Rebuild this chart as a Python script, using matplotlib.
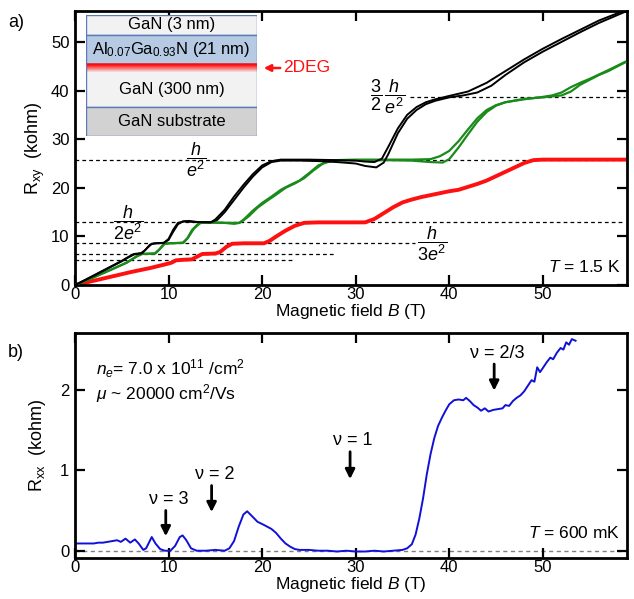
import matplotlib
matplotlib.use('Agg')
import matplotlib.pyplot as plt
from matplotlib.patches import Rectangle
import numpy as np

plt.rcParams['font.family'] = ['Liberation Sans', 'DejaVu Sans']
plt.rcParams['mathtext.fontset'] = 'custom'
plt.rcParams['mathtext.rm'] = 'Liberation Sans'
plt.rcParams['mathtext.it'] = 'Liberation Sans:italic'
plt.rcParams['mathtext.bf'] = 'Liberation Sans:bold'

# ---------------- data: Hall resistance R_xy (kohm) at T = 1.5 K ----------------
black_up_B = [0, 2, 4, 5, 5.8, 6.3, 7.0, 7.5, 8.0, 8.5, 9.5, 10.0, 10.5, 11.0, 11.5, 12.2, 13, 14.5,
              15.2, 16, 17, 18, 19, 20, 21, 22, 24, 26, 28, 30, 31, 32.2, 33, 33.5, 34.5, 35.5,
              36.5, 37.5, 38.5, 40, 41.5, 43, 44.5, 46, 48, 50, 52, 54, 56, 58.8]
black_up_R = [0, 1.9, 3.9, 4.9, 5.8, 6.3, 6.5, 7.2, 8.3, 8.6, 8.7, 9.3, 11.0, 12.5, 13.1, 13.2, 13.0, 12.9,
              13.4, 15.0, 17.5, 20.0, 22.3, 24.2, 25.3, 25.6, 25.6, 25.5, 25.3, 25.0, 24.5, 24.2, 25.2, 27.0,
              31.2, 34.2, 36.0, 37.2, 37.9, 38.6, 39.0, 39.6, 41.0, 43.2, 45.8, 48.0, 50.0, 52.0, 53.9, 56.2]

black_dn_B = [0, 2, 4, 5, 5.8, 6.3, 7.2, 7.7, 8.2, 9.5, 10.0, 10.5, 11.0, 11.7, 12.5, 14.5, 15.0, 16,
              17, 18, 19, 20, 21, 22, 25, 28, 30, 31, 32, 32.8, 33.5, 34.5, 35.5, 36.5, 37.5, 38.5,
              40, 42, 44, 46, 48, 50, 52, 54, 56, 58.8]
black_dn_R = [0, 2.0, 4.0, 5.0, 5.9, 6.4, 6.6, 7.6, 8.5, 8.7, 9.5, 11.4, 12.8, 13.1, 13.0, 12.9, 13.5, 15.5,
              18.2, 20.6, 22.8, 24.6, 25.5, 25.8, 25.8, 25.7, 25.6, 25.4, 25.3, 26.0, 28.5, 32.2, 35.0, 36.6,
              37.6, 38.2, 38.9, 39.8, 41.6, 44.0, 46.4, 48.6, 50.6, 52.5, 54.4, 56.5]

green_up_B = [0, 2, 4, 5.5, 6.5, 7.0, 8.5, 9.0, 9.5, 10, 11.5, 12, 12.5, 13.2, 14, 16, 17, 17.6, 18.2,
              19, 20, 21, 22, 23, 24, 25, 26, 27, 28, 30, 33, 36, 38, 39, 40, 41, 42, 43, 44, 45, 46,
              48, 50, 51, 52, 53, 54, 55, 56, 57, 58.8]
green_up_R = [0, 1.6, 3.3, 4.6, 5.8, 6.4, 6.5, 7.3, 8.5, 8.6, 8.7, 9.6, 11.3, 12.7, 12.9, 12.8, 12.6, 12.8,
              13.8, 15.3, 16.9, 18.2, 19.6, 20.6, 21.5, 23.0, 24.6, 25.4, 25.7, 25.8, 25.8, 25.8, 25.9, 26.5,
              27.6, 29.6, 32.0, 34.3, 36.0, 37.0, 37.6, 38.2, 38.7, 39.0, 39.6, 40.7, 41.6, 42.4, 43.3, 44.2,
              45.9]

green_dn_B = [0, 2, 4, 5.5, 6.6, 7.2, 8.6, 9.1, 9.6, 10.2, 11.6, 12.1, 12.7, 13.4, 14.2, 16, 17.5, 18,
              18.6, 19.5, 20.5, 21.5, 22.5, 23.5, 24.5, 25.5, 26.5, 27.5, 30, 33, 36, 38, 39.3, 40, 41,
              42, 43, 44, 45, 46, 48, 50, 51, 52, 53, 54, 55, 56, 57, 58.8]
green_dn_R = [0, 1.6, 3.3, 4.6, 5.9, 6.4, 6.5, 7.5, 8.5, 8.6, 8.7, 9.8, 11.6, 12.8, 12.9, 12.8, 12.8, 13.3,
              14.2, 15.9, 17.3, 18.6, 20.0, 20.9, 22.0, 23.6, 25.0, 25.6, 25.7, 25.7, 25.6, 25.3, 25.2, 25.9,
              28.3, 31.0, 33.6, 35.6, 36.9, 37.6, 38.3, 38.6, 38.8, 39.0, 39.8, 41.2, 42.2, 43.2, 44.0, 45.8]

red_B = [0, 2, 4, 6, 8, 9.5, 10.3, 10.8, 11.5, 12.5, 13.0, 13.6, 15.0, 15.5, 16.2, 16.8, 18, 20.2, 20.8,
         21.5, 22.5, 23.5, 24.5, 26, 28, 31, 32, 33, 34, 35, 36, 37, 38, 39, 40, 41, 42, 43, 44, 45, 46,
         47, 48, 49, 50, 55, 58.8]
red_R = [0, 0.9, 1.8, 2.7, 3.5, 4.2, 4.6, 5.1, 5.2, 5.3, 5.8, 6.4, 6.5, 6.8, 7.9, 8.5, 8.6, 8.6, 9.1,
         10.0, 11.2, 12.2, 12.8, 12.9, 12.9, 12.9, 13.6, 14.8, 16.0, 17.0, 17.6, 18.1, 18.5, 18.9, 19.3,
         19.6, 20.2, 20.8, 21.5, 22.4, 23.3, 24.2, 25.1, 25.7, 25.8, 25.8, 25.8]

# quantized plateau values h/(i e^2) in kohm and the field span of each guide line
plateau_R = [25.81, 12.91, 8.60, 6.45, 5.16, 38.72]
plateau_Bmin = [0, 0, 0, 0, 0, 35.8]
plateau_Bmax = [58.8, 58.8, 36.3, 27.8, 23.3, 58.8]

# ---------------- data: longitudinal resistance R_xx (kohm) at T = 600 mK ----------------
rxx_B = [0, 1, 2, 2.5, 3, 3.5, 4, 4.5, 4.9, 5.4, 5.9, 6.4, 6.8, 7.3, 7.6, 8.2, 8.6, 9.1, 9.6, 10.2,
         10.7, 11.2, 11.5, 11.9, 12.4, 13, 14, 15, 16, 16.5, 17, 17.5, 18, 18.4, 19, 19.5, 20.2, 21,
         21.5, 22, 22.5, 23, 23.5, 24, 25, 26, 27, 28, 29, 30, 31, 32, 33, 34, 35, 35.5, 36, 36.4,
         36.8, 37.2, 37.6, 38, 38.4, 38.8, 39.2, 39.6, 40, 40.5, 41, 41.5, 41.8, 42.2, 42.6, 43, 43.4,
         43.8, 44.2, 44.7, 45.2, 45.7, 46, 46.4, 46.8, 47.2, 47.6, 48, 48.4, 48.8, 49.1, 49.4, 49.7,
         50, 50.4, 50.8, 51.1, 51.5, 51.9, 52.2, 52.5, 52.8, 53.1, 53.5]
rxx_R = [0.09, 0.09, 0.09, 0.10, 0.10, 0.11, 0.12, 0.13, 0.11, 0.15, 0.10, 0.14, 0.09, 0.01, 0.03, 0.17,
         0.09, 0.02, 0.00, 0.00, 0.06, 0.17, 0.19, 0.13, 0.03, 0.00, 0.00, 0.01, 0.00, 0.03, 0.12, 0.30,
         0.45, 0.49, 0.42, 0.36, 0.32, 0.27, 0.22, 0.15, 0.09, 0.05, 0.02, 0.01, 0.01, 0.00, 0.00, -0.01,
         0.00, -0.01, -0.01, 0.00, -0.01, 0.00, 0.01, 0.03, 0.08, 0.20, 0.40, 0.65, 0.95, 1.20, 1.40, 1.55,
         1.65, 1.74, 1.82, 1.87, 1.88, 1.87, 1.90, 1.86, 1.81, 1.78, 1.74, 1.77, 1.73, 1.75, 1.76, 1.77,
         1.81, 1.80, 1.86, 1.90, 1.93, 1.98, 2.05, 2.12, 2.10, 2.28, 2.22, 2.27, 2.34, 2.40, 2.38, 2.46,
         2.52, 2.50, 2.59, 2.56, 2.63, 2.61]

# filling factor markers: (label, B of arrow, top of arrow, tip of arrow)
nu_labels = ['\u03bd = 3', '\u03bd = 2', '\u03bd = 1', '\u03bd = 2/3']
nu_B = [9.7, 14.6, 29.4, 44.8]
nu_top = [0.50, 0.81, 1.23, 2.32]
nu_tip = [0.18, 0.48, 0.89, 1.99]

# ---------------- figure ----------------
fig = plt.figure(figsize=(6.34, 5.99), dpi=100)
ax1 = fig.add_axes([0.1183, 0.524, 0.8707, 0.458])
ax2 = fig.add_axes([0.1183, 0.068, 0.8707, 0.3766])

for ax in (ax1, ax2):
    for sp in ax.spines.values():
        sp.set_linewidth(2)
    ax.tick_params(direction='in', length=7, width=1.6, top=True, right=True,
                   labelsize=12)
    ax.tick_params(axis='x', pad=1.5)
    ax.tick_params(axis='y', pad=4)
    ax.set_xlim(0, 59)
    ax.set_xticks([0, 10, 20, 30, 40, 50])
    ax.set_xlabel('Magnetic field $B$ (T)', fontsize=12.5, labelpad=-0.5)

# --- panel a ---
for r, b0, b1 in zip(plateau_R, plateau_Bmin, plateau_Bmax):
    ax1.plot([b0, b1], [r, r], ls=(0, (3, 2.5)), color='black', lw=0.9, zorder=1)

ax1.plot(red_B, red_R, color='#ff1010', lw=2.8, zorder=2)
ax1.plot(green_up_B, green_up_R, color='#1a8a1a', lw=1.6, zorder=3)
ax1.plot(green_dn_B, green_dn_R, color='#1a8a1a', lw=1.6, zorder=3)
ax1.plot(black_up_B, black_up_R, color='black', lw=1.4, zorder=4)
ax1.plot(black_dn_B, black_dn_R, color='black', lw=1.4, zorder=4)

ax1.set_ylim(0, 56.4)
ax1.set_yticks([0, 10, 20, 30, 40, 50])
ax1.set_ylabel(r'R$_{\rm xy}$  (kohm)', fontsize=13, labelpad=3)

ax1.text(13.0, 25.8, r'$\dfrac{h}{e^2}$', fontsize=13, ha='center', va='center')
ax1.text(5.7, 12.9, r'$\dfrac{h}{2e^2}$', fontsize=13, ha='center', va='center')
ax1.text(38.2, 8.6, r'$\dfrac{h}{3e^2}$', fontsize=13, ha='center', va='center')
ax1.text(33.4, 38.7, r'$\dfrac{3}{2}\,\dfrac{h}{e^2}$', fontsize=13, ha='center', va='center')
ax1.text(58.3, 2.0, '$T$ = 1.5 K', fontsize=12.5, ha='right', va='bottom')

# layer stack inset
ins = fig.add_axes([86 / 634, 1 - 136 / 599, 171 / 634, 121 / 599])
ins.axis('off')
layers = [(0, 20, '#f2f2f2', 'GaN (3 nm)'),
          (20, 49, '#b7cae4', r'Al$_{0.07}$Ga$_{0.93}$N (21 nm)'),
          (49, 92, '#f2f2f2', 'GaN (300 nm)'),
          (92, 121, '#d2d2d2', 'GaN substrate')]
for y0, y1, col, lab in layers:
    ins.add_patch(Rectangle((0, y0), 1, y1 - y0, facecolor=col, edgecolor='#5b7bb5', lw=1.0))
    ins.text(0.5, (y0 + y1) / 2 + (4 if y0 == 49 else 0), lab, fontsize=12, ha='center', va='center')
# 2DEG red gradient stripe
alpha = np.concatenate([np.linspace(0.7, 1.0, 2), np.linspace(0.9, 0.0, 8)])
grad = np.zeros((len(alpha), 1, 4))
grad[:, 0, 0] = 1.0
grad[:, 0, 1] = 0.05
grad[:, 0, 2] = 0.05
grad[:, 0, 3] = alpha
ins.imshow(grad, extent=(0.003, 0.997, 58, 48.5), aspect='auto', zorder=3, interpolation='bilinear')
ins.set_xlim(0, 1)
ins.set_ylim(121, 0)

fig.text(283 / 634, 1 - 68 / 599, '2DEG', color='#ff1010', fontsize=12.5, ha='left', va='center')
ax1.annotate('', xy=(261 / 634, 1 - 68 / 599), xytext=(283 / 634, 1 - 68 / 599),
             xycoords='figure fraction', textcoords='figure fraction',
             arrowprops=dict(arrowstyle='-|>', color='#ff1010', lw=1.8, mutation_scale=10))

# --- panel b ---
ax2.plot([0, 59], [0, 0], ls=(0, (3, 2.5)), color='gray', lw=1.0, zorder=1)
ax2.plot(rxx_B, rxx_R, color='#1010d8', lw=1.4, zorder=2)
ax2.set_ylim(-0.094, 2.71)
ax2.set_yticks([0, 1, 2])
ax2.set_ylabel(r'R$_{\rm xx}$  (kohm)', fontsize=13, labelpad=9)

for lab, b, yt, yp in zip(nu_labels, nu_B, nu_top, nu_tip):
    ax2.annotate('', xy=(b, yp), xytext=(b, yt),
                 arrowprops=dict(arrowstyle='-|>', color='black', lw=2, mutation_scale=14,
                                 shrinkA=0, shrinkB=0))
    ax2.text(b + 0.3, yt + 0.03, lab, fontsize=13, ha='center', va='bottom')

ax2.text(2.2, 2.26, r'$n_e$= 7.0 x 10$^{11}$ /cm$^2$', fontsize=12.5, ha='left', va='center')
ax2.text(2.2, 1.95, r'$\mu$ ~ 20000 cm$^2$/Vs', fontsize=12.5, ha='left', va='center')
ax2.text(58.3, 0.12, '$T$ = 600 mK', fontsize=12.5, ha='right', va='bottom')

fig.text(0.013, 0.963, 'a)', fontsize=13, ha='left', va='center')
fig.text(0.013, 0.412, 'b)', fontsize=13, ha='left', va='center')

fig.savefig('out.png', dpi=100, facecolor='white')
